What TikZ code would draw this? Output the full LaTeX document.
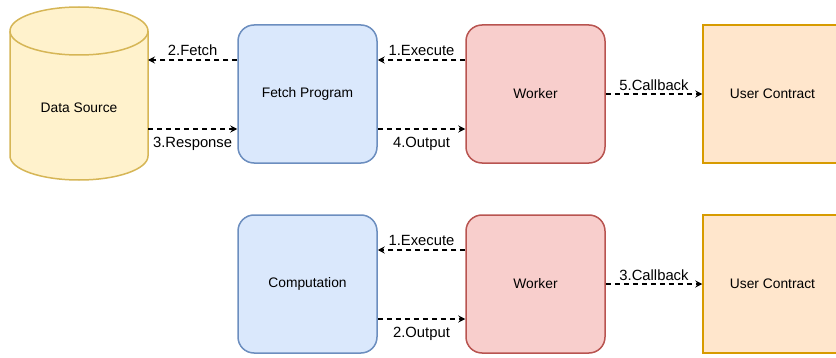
\documentclass[tikz,border=0pt]{standalone}
\usepackage{fontspec}
\setmainfont{Liberation Sans}
\usetikzlibrary{arrows.meta}
\definecolor{srcfill}{HTML}{FFF2CC}
\definecolor{srcdraw}{HTML}{D6B656}
\definecolor{progfill}{HTML}{DAE8FC}
\definecolor{progdraw}{HTML}{6C8EBF}
\definecolor{workfill}{HTML}{F8CECC}
\definecolor{workdraw}{HTML}{B85450}
\definecolor{userfill}{HTML}{FFE6CC}
\definecolor{userdraw}{HTML}{D79B00}

\begin{document}
\begin{tikzpicture}[
    x=1pt, y=1pt,
    box/.style={
        rectangle,
        minimum width=139pt, minimum height=138pt,
        line width=1.5pt,
        font=\fontsize{13.8}{16}\selectfont
    },
    prog/.style={box, rounded corners=16pt, fill=progfill, draw=progdraw},
    worker/.style={box, rounded corners=16pt, fill=workfill, draw=workdraw},
    user/.style={box, fill=userfill, draw=userdraw},
    flow/.style={
        -{Stealth[length=7pt, width=7pt, inset=2.5pt]},
        line width=1.6pt,
        dash pattern=on 5pt off 4pt
    },
    lbl/.style={font=\fontsize{14.8}{17}\selectfont, inner sep=1pt}
]

\useasboundingbox (0,0) rectangle (836,357);
\clip (0,0) rectangle (836,357);

% =================== Row 1: Data Source ===================
\filldraw[fill=srcfill, draw=srcdraw, line width=1.5pt]
    (10,326)
    -- (10,201)
    arc[start angle=180, end angle=360, x radius=69, y radius=24]
    -- (148,326)
    arc[start angle=0, end angle=180, x radius=69, y radius=24]
    -- cycle;
\draw[srcdraw, line width=1.5pt]
    (10,326) arc[start angle=180, end angle=360, x radius=69, y radius=24];
\node[minimum width=138pt, inner sep=0pt, outer sep=0pt,
      font=\fontsize{13.8}{16}\selectfont] (src) at (79,249) {Data Source};

% =================== Row 1: Fetch Program, Worker, User Contract ===================
\node[prog]   (fetch)  at (307.5,263) {Fetch Program};
\node[worker] (work)   at (535.5,263) {Worker};
\node[user]   (user)   at (772.5,263) {User Contract};

\draw[flow] ([yshift=34pt]fetch.west) -- ([yshift=48pt]src.east)
    node[lbl, midway, above=3pt] (lfetch) {2.Fetch};
\draw[flow] ([yshift=-21pt]src.east) -- ([yshift=-35pt]fetch.west)
    node[lbl, midway, below=6pt] (lresp) {3.Response};
\draw[flow] ([yshift=34pt]work.west) -- ([yshift=34pt]fetch.east)
    node[lbl, midway, above=3pt] (lexec) {1.Execute};
\draw[flow] ([yshift=-35pt]fetch.east) -- ([yshift=-35pt]work.west)
    node[lbl, midway, below=6pt] (lout) {4.Output};
\draw[flow] (work) -- (user)
    node[lbl, midway, above=2pt] (lcall) {5.Callback};

% =================== Row 2: Computation, Worker, User Contract ===================
\node[prog]   (comp)   at (307.5,73) {Computation};
\node[worker] (work2)  at (535.5,73) {Worker};
\node[user]   (user2)  at (772.5,73) {User Contract};

\draw[flow] ([yshift=34pt]work2.west) -- ([yshift=34pt]comp.east)
    node[lbl, midway, above=3pt] (lexec2) {1.Execute};
\draw[flow] ([yshift=-35pt]comp.east) -- ([yshift=-35pt]work2.west)
    node[lbl, midway, below=6pt] (lout2) {2.Output};
\draw[flow] (work2) -- (user2)
    node[lbl, midway, above=2pt] (lcall2) {3.Callback};

\end{tikzpicture}
\end{document}
